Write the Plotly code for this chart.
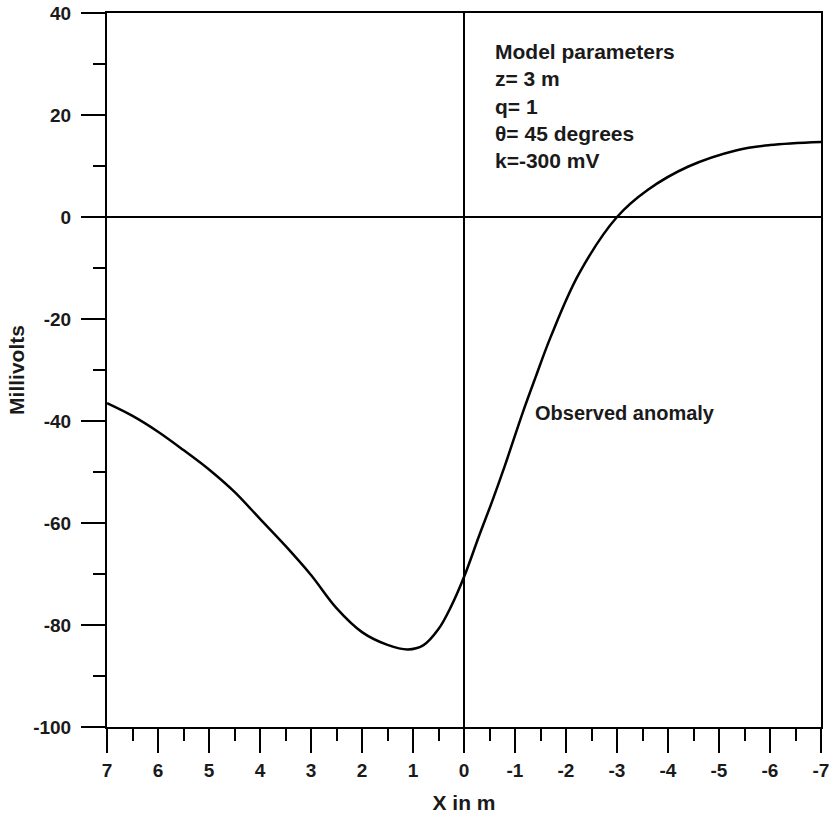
import plotly.graph_objects as go

# Observed anomaly
x_m = [7, 6.5, 6, 5.5, 5, 4.5, 4, 3.5, 3, 2.5, 2, 1.5, 1.1, 0.8, 0.5, 0.25, 0,
       -0.3, -0.55, -0.8, -1.15, -1.4, -1.7, -2.25, -3, -3.6, -4.4, -5.35, -6, -7]
millivolts = [-36.5, -39.0, -42.1, -45.7, -49.5, -53.9, -59.2, -64.5, -70.2, -76.7,
              -81.4, -83.9, -84.8, -84.0, -80.8, -76.3, -70.6,
              -62.4, -55.8, -48.8, -38.4, -31.5, -23.5, -11.2, 0.0, 5.3, 9.9, 13.1, 14.1, 14.7]

x_ticks = [7, 6, 5, 4, 3, 2, 1, 0, -1, -2, -3, -4, -5, -6, -7]
y_ticks = [40, 20, 0, -20, -40, -60, -80, -100]

param_lines = ["Model parameters", "z= 3 m", "q= 1", "θ= 45 degrees", "k=-300 mV"]
curve_label = "Observed anomaly"

FONT = "Liberation Sans, Arial, Helvetica, sans-serif"

fig = go.Figure()
fig.add_trace(go.Scatter(x=x_m, y=millivolts, mode="lines",
                         line=dict(color="black", width=2.5, shape="spline", smoothing=1.0),
                         showlegend=False, hoverinfo="skip"))

axis_common = dict(
    showgrid=False, showline=True, linecolor="black", linewidth=2, mirror=True,
    ticks="outside", ticklen=24, tickwidth=2, tickcolor="black",
    zeroline=True, zerolinecolor="black", zerolinewidth=2, automargin=False,
    ticklabeloverflow="allow",
    tickfont=dict(family=FONT, size=19, color="#1a1a1a", weight="bold"),
)

fig.update_layout(
    width=831, height=814,
    margin=dict(l=107, r=10, t=13, b=87),
    paper_bgcolor="white", plot_bgcolor="white",
    xaxis=dict(range=[7, -7], tickvals=x_ticks, ticktext=[str(v) for v in x_ticks],
               minor=dict(dtick=0.5, ticklen=12, tickwidth=2, tickcolor="black", ticks="outside"),
               title=dict(text="X in m", standoff=17,
                          font=dict(family=FONT, size=21, color="#1a1a1a", weight="bold")),
               ticklabelstandoff=1,
               **axis_common),
    yaxis=dict(range=[-100, 40], tickvals=y_ticks, ticktext=[str(v) for v in y_ticks],
               minor=dict(dtick=10, ticklen=12, tickwidth=2, tickcolor="black", ticks="outside"),
               title=dict(text="Millivolts", standoff=3,
                          font=dict(family=FONT, size=21, color="#1a1a1a", weight="bold")),
               ticklabelstandoff=6,
               **axis_common),
)

fig.add_annotation(x=-0.57, y=21.7, xref="x", yref="y", xanchor="left", yanchor="middle",
                   text="<br>".join(param_lines), showarrow=False, align="left",
                   font=dict(family=FONT, size=21, color="#1a1a1a", weight="bold"))
fig.add_annotation(x=-1.35, y=-38.4, xref="x", yref="y", xanchor="left", yanchor="middle",
                   text=curve_label, showarrow=False, align="left",
                   font=dict(family=FONT, size=20, color="#1a1a1a", weight="bold"))

# remove the default page margin so the figure fills the 831x814 window exactly
fig.write_html("out.html", config={"displayModeBar": False},
               post_script="document.body.style.margin='0';document.body.style.overflow='hidden';")
